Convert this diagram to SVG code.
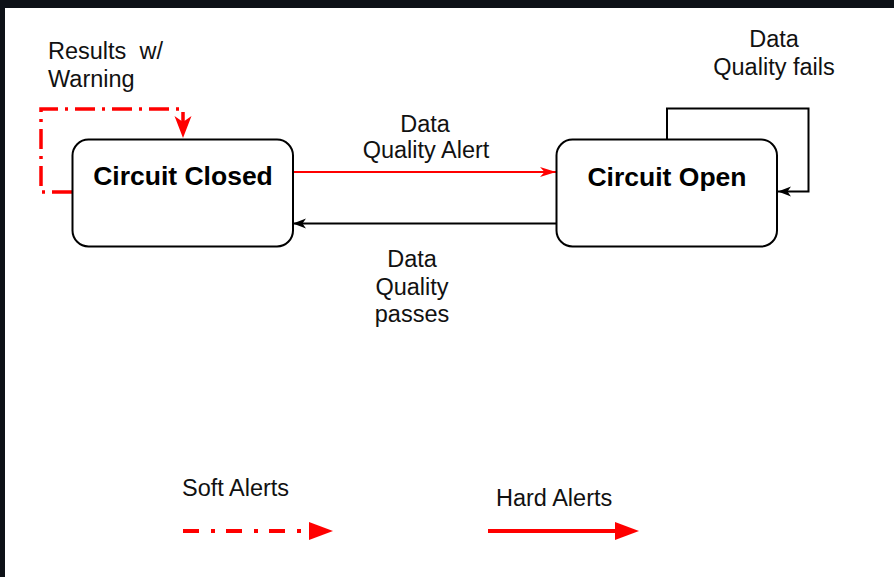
<svg xmlns="http://www.w3.org/2000/svg" width="894" height="577" viewBox="0 0 894 577">
  <style>
    .box { fill: #ffffff; stroke: #000000; stroke-width: 2; }
    .title { font-family: "Liberation Sans", Arial, sans-serif; font-weight: bold; font-size: 26.5px; fill: #000000; text-anchor: middle; }
    .label { font-family: "Liberation Sans", Arial, sans-serif; font-size: 23.5px; fill: #111111; }
    .mid { text-anchor: middle; }
    .hard { fill: none; stroke: #ff0000; stroke-width: 2; }
    .back { fill: none; stroke: #000000; stroke-width: 2; }
    .soft { fill: none; stroke: #ff0000; stroke-width: 3.5; stroke-dasharray: 20 7 3 7; }
  </style>
  <defs>
    <marker id="headRed" markerUnits="userSpaceOnUse" markerWidth="17" markerHeight="11" refX="16" refY="5.5" orient="auto">
      <path d="M0,0.5 L16,5.5 L0,10.5 L4.5,5.5 Z" fill="#ff0000"/>
    </marker>
    <marker id="headBlack" markerUnits="userSpaceOnUse" markerWidth="14" markerHeight="11" refX="13" refY="5.5" orient="auto">
      <path d="M0,0.5 L13,5.5 L0,10.5 L3.5,5.5 Z" fill="#000000"/>
    </marker>
    <marker id="headSoft" markerUnits="userSpaceOnUse" markerWidth="24" markerHeight="18" refX="22" refY="9" orient="auto">
      <path d="M0,0.5 L22,9 L0,17.5 L6,9 Z" fill="#ff0000"/>
    </marker>
  </defs>

  <!-- page -->
  <rect x="0" y="0" width="894" height="577" fill="#ffffff"/>
  <rect x="0" y="0" width="894" height="8" fill="#0d1117"/>
  <rect x="0" y="0" width="5" height="577" fill="#0d1117"/>

  <!-- connectors -->
  <g id="connectors">
    <path class="soft" d="M72,192 H41 V109 H183 V138" marker-end="url(#headSoft)"/>
    <path class="hard" d="M293,172 H556" marker-end="url(#headRed)"/>
    <path class="back" d="M557,223.5 H293" marker-end="url(#headBlack)"/>
    <path class="back" d="M667,139 V108.5 H808.5 V191.5 H778" marker-end="url(#headBlack)"/>
  </g>

  <!-- states -->
  <g id="circuit-closed">
    <rect class="box" x="72.5" y="139.5" width="220.5" height="107" rx="16"/>
    <text class="title" x="183" y="185">Circuit Closed</text>
  </g>
  <g id="circuit-open">
    <rect class="box" x="556.5" y="139.5" width="220.5" height="107" rx="16"/>
    <text class="title" x="667" y="185.5">Circuit Open</text>
  </g>

  <!-- transition labels -->
  <g id="label-warning">
    <text class="label" x="48" y="59" xml:space="preserve">Results  w/</text>
    <text class="label" x="48" y="87">Warning</text>
  </g>
  <g id="label-alert">
    <text class="label mid" x="425" y="132">Data</text>
    <text class="label mid" x="426" y="158">Quality Alert</text>
  </g>
  <g id="label-fails">
    <text class="label mid" x="774" y="47">Data</text>
    <text class="label mid" x="774" y="75">Quality fails</text>
  </g>
  <g id="label-passes">
    <text class="label mid" x="412" y="267">Data</text>
    <text class="label mid" x="412" y="295">Quality</text>
    <text class="label mid" x="412" y="322">passes</text>
  </g>

  <!-- legend -->
  <g id="legend-soft">
    <text class="label" x="182" y="496">Soft Alerts</text>
    <path d="M183,531 H310" fill="none" stroke="#ff0000" stroke-width="4" stroke-dasharray="16 12 4 11"/>
    <polygon points="309,522 333,531 309,540" fill="#ff0000"/>
  </g>
  <g id="legend-hard">
    <text class="label" x="496" y="506">Hard Alerts</text>
    <path d="M488,531 H616" fill="none" stroke="#ff0000" stroke-width="4"/>
    <polygon points="615,522 639,531 615,540" fill="#ff0000"/>
  </g>
</svg>
